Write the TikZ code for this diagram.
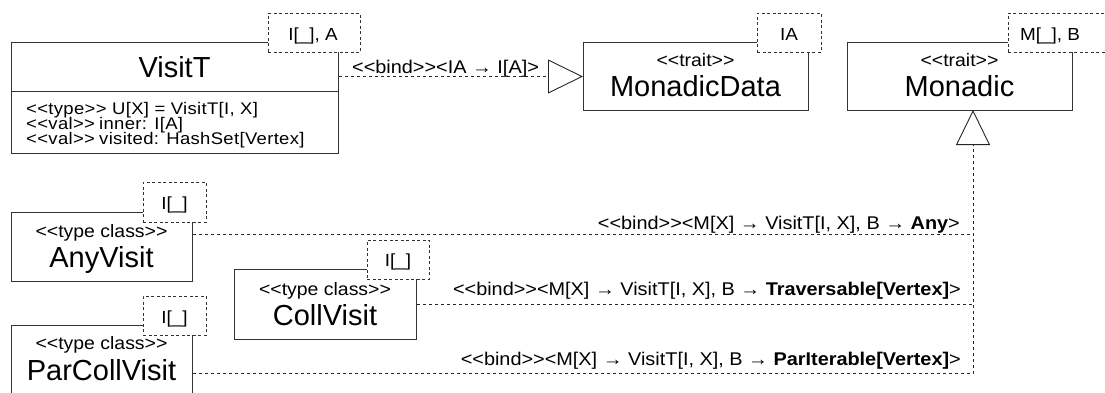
\documentclass[tikz,border=0pt]{standalone}
\usepackage{fontspec}
\setmainfont{Liberation Sans}[Ligatures=TeXOff]
\newfontfamily\smallfnt{Liberation Sans}[Ligatures=TeXOff, FakeStretch=1.08]
\newfontfamily\attrfnt{Liberation Sans}[Ligatures=TeXOff, FakeStretch=1.1, LetterSpace=2]
\usetikzlibrary{arrows.meta}
\begin{document}
\begin{tikzpicture}[x=1pt,y=-1pt,
  box/.style={draw=black!80, fill=white, line width=1pt, inner sep=0pt, anchor=north west},
  tmpl/.style={draw=black!80, fill=white, line width=0.9pt, dash pattern=on 3pt off 2.5pt, inner sep=0pt, anchor=north west},
  conn/.style={draw=black!85, line width=0.9pt, dash pattern=on 3pt off 3pt},
  gen/.style={-{Triangle[open, length=35pt, width=34pt, fill=white]}},
  ttl/.style={font=\fontsize{29}{29}\selectfont, inner sep=0pt, anchor=base},
  st/.style={font=\smallfnt\fontsize{18}{18}\selectfont, inner sep=0pt, anchor=base},
  tt/.style={font=\smallfnt\fontsize{17.5}{17.5}\selectfont, inner sep=0pt, anchor=base},
  attr/.style={font=\attrfnt\fontsize{16.8}{16.8}\selectfont, inner sep=0pt, anchor=base west},
  lbl/.style={font=\smallfnt\fontsize{18.4}{18.4}\selectfont, inner sep=0pt},
]
\useasboundingbox (0,0) rectangle (1105,392);
\clip (0,0) rectangle (1105,392);

% VisitT
\node[box, minimum width=327pt, minimum height=111pt] (visitT) at (11,42) {};
\draw[draw=black!80, line width=1pt] ([yshift=-49pt]visitT.north west) -- ([yshift=-49pt]visitT.north east);
\node[ttl] (visitTname) at (174.5,77) {VisitT};
\node[attr] (a1) at (26,114.5) {<<type>> U[X] = VisitT[I, X]};
\node[attr] (a2) at (26,129.5) {\makebox[73pt][l]{<<val>>}inner: I[A]};
\node[attr] (a3) at (26,144.5) {\makebox[73pt][l]{<<val>>}visited: HashSet[Vertex]};
\node[tmpl, minimum width=92pt, minimum height=39pt] (visitTpar) at (268,13) {};
\node[tt] (visitTparT) at (313,40) {I[\_], A};

% MonadicData
\node[box, minimum width=225pt, minimum height=68pt] (mdata) at (583,42) {};
\node[st] (mdataSt) at (695.5,66) {<<trait>>};
\node[ttl] (mdataName) at (695.5,96) {MonadicData};
\node[tmpl, minimum width=64pt, minimum height=39pt] (mdataPar) at (757,13) {};
\node[tt] (mdataParT) at (789,40) {IA};

% Monadic
\node[box, minimum width=225pt, minimum height=68pt] (monadic) at (847,42) {};
\node[st] (monadicSt) at (959.5,66) {<<trait>>};
\node[ttl] (monadicName) at (959.5,96) {Monadic};
\node[tmpl, minimum width=100pt, minimum height=39pt] (monadicPar) at (1008,13) {};
\node[tt] (monadicParT) at (1050,40) {M[\_], B};
\coordinate (monadicIn) at (973,110);

% AnyVisit
\node[box, minimum width=181pt, minimum height=69pt] (anyvisit) at (11,212) {};
\node[st] (anySt) at (101.5,237) {<<type class>>};
\node[ttl] (anyName) at (101.5,267) {AnyVisit};
\node[tmpl, minimum width=63pt, minimum height=40pt] (anyPar) at (143,182) {};
\node[tt] (anyParT) at (174.5,209) {I[\_]};

% CollVisit
\node[box, minimum width=182pt, minimum height=70pt] (collvisit) at (234,269) {};
\node[st] (collSt) at (325,295) {<<type class>>};
\node[ttl] (collName) at (325,325) {CollVisit};
\node[tmpl, minimum width=62pt, minimum height=39pt] (collPar) at (367,240) {};
\node[tt] (collParT) at (398,266) {I[\_]};

% ParCollVisit
\node[box, minimum width=181pt, minimum height=96pt] (parcoll) at (11,325) {};
\node[st] (parSt) at (101.5,349) {<<type class>>};
\node[ttl] (parName) at (101.5,380) {ParCollVisit};
\node[tmpl, minimum width=63pt, minimum height=39pt] (parPar) at (143,296) {};
\node[tt] (parParT) at (174.5,323) {I[\_]};

% connectors
\draw[conn, gen] (mdata.west -| visitT.east) -- (mdata.west);
\draw[conn] ([yshift=-22pt]anyvisit.north east) -- ([yshift=-22pt]anyvisit.north east -| monadicIn);
\draw[conn] (collvisit.east) -- (collvisit.east -| monadicIn);
\draw[conn, gen] (parcoll.east) -| (monadicIn);

% labels
\node[lbl, anchor=base west] (lblData) at (352,73) {<<bind>><IA → I[A]>};
\node[lbl, anchor=base east] (lblAny) at (960,229) {<<bind>><M[X] → VisitT[I, X], B → \textbf{Any}>};
\node[lbl, anchor=base east] (lblColl) at (961,295) {<<bind>><M[X] → VisitT[I, X], B → \textbf{Traversable[Vertex]}>};
\node[lbl, anchor=base east] (lblPar) at (961,365) {<<bind>><M[X] → VisitT[I, X], B → \textbf{ParIterable[Vertex]}>};
\end{tikzpicture}
\end{document}
